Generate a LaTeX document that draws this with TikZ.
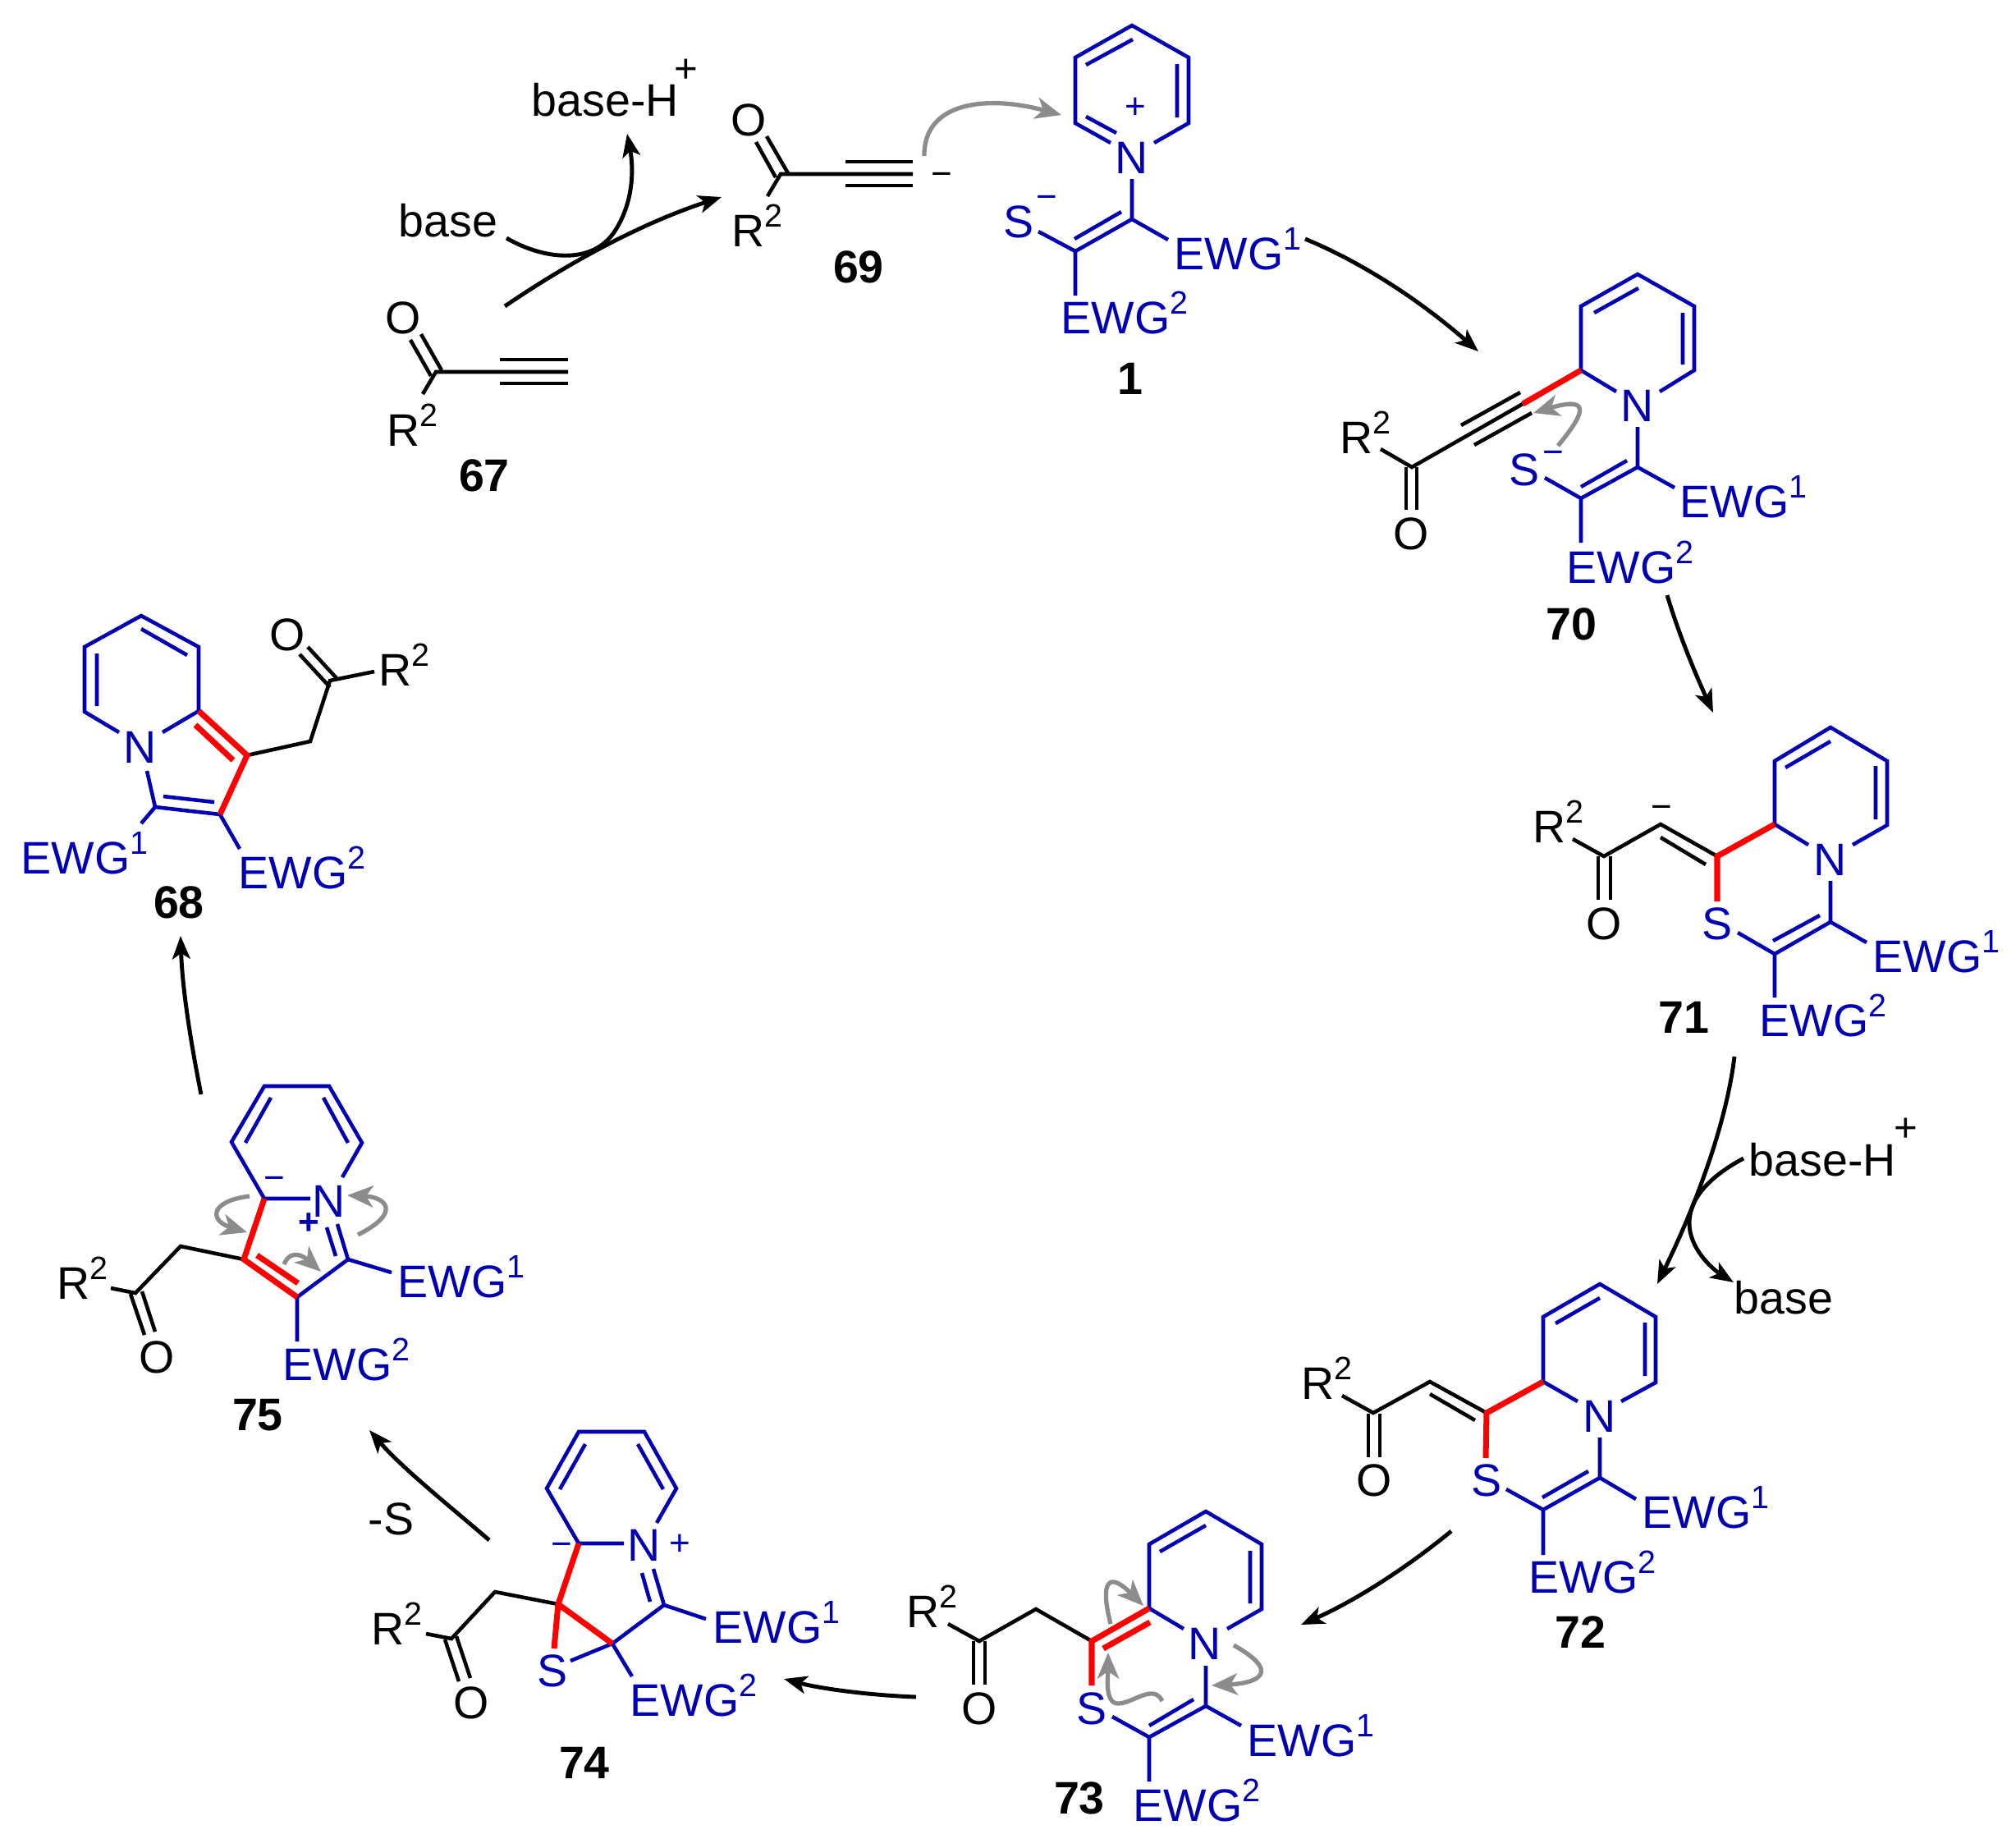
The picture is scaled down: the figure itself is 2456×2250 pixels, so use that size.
\documentclass[tikz,border=0pt]{standalone}
\usepackage{fontspec}
\setmainfont{Liberation Sans}
\usetikzlibrary{arrows.meta}
\definecolor{molblue}{RGB}{0,0,178}
\definecolor{curlgray}{RGB}{140,140,140}
\newcommand{\sups}[1]{\raisebox{6.8pt}{\fontsize{11.2}{12}\selectfont #1}}
\tikzset{
  bondb/.style={molblue,line width=1.3pt},
  bondk/.style={black,line width=1.3pt},
  bondr/.style={red,line width=2pt},
  rxn/.style={black,line width=1.4pt,-{Stealth[length=8pt,width=6.2pt,inset=2pt]}},
  curl/.style={curlgray,line width=1.5pt,-{Stealth[length=9pt,width=7.5pt,inset=2.5pt]}},
  txt/.style={inner sep=0pt,anchor=base west,font=\fontsize{15.8}{18}\selectfont},
  atm/.style={inner sep=0pt,font=\fontsize{15.8}{18}\selectfont},
  num/.style={inner sep=0pt,font=\fontsize{15.8}{18}\selectfont\bfseries},
  chg/.style={inner sep=0pt,anchor=base,font=\fontsize{12.5}{14}\selectfont}
}
\begin{document}
\begin{tikzpicture}[x=0.01cm,y=-0.01cm]
   \useasboundingbox (0,0) rectangle (2456,2250);

   \foreach \n/\x/\y in {r67/471/543,r69/891/300,r70/1632/552,r71/1867/1026,r72/1585/1704,r73/1104/1982,r74/452/2003,r75/69/1582,r68/461/835}
      \node[txt] (\n) at (\x,\y) {R\sups{2}};
   \foreach \n/\x/\y in {ea1/1430/328,ea70/2046/630,ea71/2281/1184,ea72/2000/1861,ea73/1519/2139,ea74/868/2001,ea75/484/1580,ea68/25/1064}
      \node[txt,molblue] (\n) at (\x,\y) {EWG\sups{1}};
   \foreach \n/\x/\y in {eb1/1292/406,eb70/1908/710,eb71/2143/1262,eb72/1862/1940,eb73/1380/2218,eb74/767/2090,eb75/344/1681,eb68/290/1082}
      \node[txt,molblue] (\n) at (\x,\y) {EWG\sups{2}};
   \foreach \n/\x/\y in {o67/491/387,o69/912/146,o70/1719/650,o71/1954/1125,o72/1674/1803,o73/1193/2081,o74/574/2074,o75/191/1653,o68/350/773}
      \node[atm] (\n) at (\x,\y) {O};
   \foreach \n/\x/\y in {n1/1379/192,n70/1995/494,n71/2230/1047,n72/1949/1725,n73/1468/2002,n74/785/1882,n75/401/1463,n68/171/910}
      \node[atm,molblue] (\n) at (\x,\y) {N};
   \foreach \n/\x/\y in {s1/1241/270,s70/1857/572,s71/2092/1125,s72/1811/1803,s73/1330/2081,s74/673/2035}
      \node[atm,molblue] (\n) at (\x,\y) {S};
   \foreach \n/\t/\x/\y in {l67/67/590/579,l69/69/1046/325,l1/1/1377/461,l70/70/1914/760,l71/71/2051/1239,l72/72/1925/1988,l73/73/1315/2190,l74/74/712/2147,l75/75/314/1724,l68/68/218/1099}
      \node[num] (\n) at (\x,\y) {\t};

   \node[txt] (base1) at (485,288) {base};
   \node[txt] (baseh1) at (647,141) {base-H};
   \node[chg,font=\fontsize{14}{16}\selectfont] (pl1) at (836,100) {+};
   \node[txt] (baseh2) at (2130,1432) {base-H};
   \node[chg,font=\fontsize{14}{16}\selectfont] (pl2) at (2322,1390) {+};
   \node[txt] (base2) at (2112,1600) {base};
   \node[txt] (less) at (448,1869) {-S};
   \node[chg] (mi69) at (1147,226) {\symbol{"2212}};
   \node[chg] (mi71) at (2024,997) {\symbol{"2212}};
   \node[chg,molblue] (mi1) at (1275,254) {\symbol{"2212}};
   \node[chg,molblue] (mi70) at (1892,565) {\symbol{"2212}};
   \node[chg,molblue] (mi74) at (684,1895) {\symbol{"2212}};
   \node[chg,molblue] (mi75) at (334,1449) {\symbol{"2212}};
   \node[chg,molblue] (pl1b) at (1383,144) {+};
   \node[chg,molblue] (pl74) at (828,1894) {+};
   \node[chg,molblue,font=\fontsize{12.5}{14}\selectfont\bfseries] (pl75) at (376,1503) {+};

   \draw[bondk] (515,480) -- (531,453) -- (692,453);
   \draw[bondk] (609,438) -- (692,438) (609,467) -- (692,467);
   \draw[bondk] (500,414) -- (525,458) (513,407) -- (538,451);

   \draw[bondk] (935,239) -- (951,212) -- (1112,212);
   \draw[bondk] (1030,197) -- (1112,197) (1030,226) -- (1112,226);
   \draw[bondk] (921,173) -- (945,216) (934,166) -- (960,211);

   \draw[bondb] (1353,174) -- (1310,150) -- (1310,70) -- (1379,31) -- (1448,70) -- (1448,150) -- (1406,174);
   \draw[bondb] (1323,79) -- (1380,48) (1434,78) -- (1434,143) (1323,142) -- (1360,162);
   \draw[bondb] (1379,218) -- (1379,267) -- (1310,306) -- (1310,360);
   \draw[bondb] (1379,267) -- (1423,292) (1366,258) -- (1309,291) (1265,282) -- (1310,306);

   \draw[bondb] (1969,477) -- (1926,451) -- (1926,373) -- (1995,334) -- (2064,373) -- (2064,451) -- (2022,477);
   \draw[bondb] (1942,381) -- (1996,351) (2050,381) -- (2050,444);
   \draw[bondb] (1995,520) -- (1995,569) -- (1926,607) -- (1926,661);
   \draw[bondb] (1995,569) -- (2040,594) (1982,561) -- (1926,593) (1882,582) -- (1926,607);
   \draw[bondk] (1855,492) -- (1720,569) -- (1682,547);
   \draw[bondk] (1852,478) -- (1780,518) (1866,503) -- (1796,542);
   \draw[bondk] (1713,569) -- (1713,621) (1726,569) -- (1726,621);
   \draw[bondr] (1926,451) -- (1855,492);

   \draw[bondb] (2203,1029) -- (2162,1004) -- (2162,927) -- (2230,886) -- (2299,927) -- (2299,1005) -- (2257,1029);
   \draw[bondb] (2175,935) -- (2230,903) (2285,933) -- (2285,998);
   \draw[bondb] (2230,1073) -- (2230,1123) -- (2162,1162) -- (2162,1215);
   \draw[bondb] (2230,1123) -- (2274,1148) (2217,1115) -- (2160,1146) (2117,1136) -- (2162,1162);
   \draw[bondk] (2092,1043) -- (2023,1004) -- (1954,1043) -- (1916,1022);
   \draw[bondk] (2078,1053) -- (2023,1020);
   \draw[bondk] (1947,1043) -- (1947,1096) (1962,1043) -- (1962,1096);
   \draw[bondr] (2162,1004) -- (2092,1043) -- (2092,1098);

   \draw[bondb] (1922,1707) -- (1880,1683) -- (1880,1604) -- (1949,1564) -- (2017,1604) -- (2017,1684) -- (1975,1707);
   \draw[bondb] (1895,1612) -- (1949,1581) (2004,1611) -- (2004,1676);
   \draw[bondb] (1949,1751) -- (1949,1800) -- (1880,1839) -- (1880,1894);
   \draw[bondb] (1949,1800) -- (1993,1826) (1935,1792) -- (1879,1824) (1835,1814) -- (1880,1839);
   \draw[bondk] (1811,1721) -- (1742,1683) -- (1673,1721) -- (1635,1700);
   \draw[bondk] (1797,1730) -- (1742,1698);
   \draw[bondk] (1667,1722) -- (1667,1775) (1681,1722) -- (1681,1775);
   \draw[bondr] (1880,1683) -- (1811,1721) -- (1810,1776);

   \draw[bondb] (1442,1984) -- (1400,1959) -- (1400,1881) -- (1469,1841) -- (1537,1881) -- (1537,1960) -- (1495,1984);
   \draw[bondb] (1413,1890) -- (1469,1858) (1523,1889) -- (1523,1953);
   \draw[bondb] (1469,2029) -- (1469,2078) -- (1400,2116) -- (1400,2170);
   \draw[bondb] (1469,2078) -- (1512,2102) (1454,2070) -- (1400,2102) (1355,2091) -- (1400,2116);
   \draw[bondk] (1330,1999) -- (1262,1960) -- (1193,1999) -- (1155,1978);
   \draw[bondk] (1186,1999) -- (1186,2052) (1200,1999) -- (1200,2052);
   \draw[bondr] (1400,1959) -- (1330,1999) -- (1330,2053) (1401,1976) -- (1344,2008);

   \draw[bondb] (760,1880) -- (705,1880) -- (666,1813) -- (705,1744) -- (785,1744) -- (824,1813) -- (800,1855);
   \draw[bondb] (713,1759) -- (682,1814) (777,1759) -- (808,1814);
   \draw[bondb] (796,1911) -- (809,1955) -- (746,2002) -- (770,2042);
   \draw[bondb] (782,1916) -- (792,1951) (809,1955) -- (860,1972) (695,2023) -- (746,2002);
   \draw[bondk] (680,1954) -- (603,1939) -- (550,1996) -- (519,1990);
   \draw[bondk] (542,1997) -- (559,2048) (556,1993) -- (573,2044);
   \draw[bondr] (705,1880) -- (680,1954) -- (675,2008) (680,1954) -- (746,2002);

   \draw[bondb] (378,1460) -- (322,1460) -- (282,1391) -- (322,1323) -- (401,1323) -- (441,1392) -- (417,1434);
   \draw[bondb] (330,1337) -- (299,1392) (394,1337) -- (424,1392);
   \draw[bondb] (411,1491) -- (424,1534) -- (362,1580) -- (362,1634);
   \draw[bondb] (398,1495) -- (409,1530) (424,1534) -- (477,1550);
   \draw[bondk] (297,1534) -- (220,1518) -- (165,1575) -- (135,1569);
   \draw[bondk] (159,1576) -- (176,1626) (173,1573) -- (189,1622);
   \draw[bondr] (322,1460) -- (297,1534) -- (362,1580) (313,1529) -- (363,1563);

   \draw[bondb] (145,892) -- (103,867) -- (103,788) -- (172,750) -- (242,788) -- (242,866) -- (198,892);
   \draw[bondb] (172,766) -- (228,798) (118,796) -- (118,860);
   \draw[bondb] (179,939) -- (189,983) -- (268,992) -- (292,1034);
   \draw[bondb] (199,970) -- (261,977) (189,983) -- (172,1003);
   \draw[bondk] (301,920) -- (378,903) -- (402,829) -- (456,818);
   \draw[bondk] (402,837) -- (365,797) (410,826) -- (375,788);
   \draw[bondr] (242,866) -- (301,920) -- (268,992) (238,883) -- (284,926);

   \foreach \n/\x/\y in {ra/615/373,rb/879/240,rc/617/290,rd/764/163,re/1590/291,rf/1801/428,rg/2031/725,rh/2087/868,ri/2113/1287,rj/2019/1564,rk/2124/1411,rl/2112/1562,rm/1768/1865,rn/1585/1979,ro/1116/2067,rp/955/2045,rq/596/1876,rr/450/1742,rs/245/1333,rt/220/1140}
      \coordinate (\n) at (\x,\y);
   \draw[rxn] (ra) .. controls (703,313) and (790,269) .. (rb);
   \draw[rxn] (rc) .. controls (660,315) and (722,325) .. (750,280) .. controls (772,245) and (772,205) .. (rd);
   \draw[rxn] (re) .. controls (1660,320) and (1730,366) .. (rf);
   \draw[rxn] (rg) .. controls (2046,775) and (2066,822) .. (rh);
   \draw[rxn] (ri) .. controls (2103,1370) and (2065,1470) .. (rj);
   \draw[rxn] (rk) .. controls (2085,1432) and (2058,1458) .. (2058,1490) .. controls (2058,1520) and (2085,1545) .. (rl);
   \draw[rxn] (rm) .. controls (1707,1915) and (1646,1952) .. (rn);
   \draw[rxn] (ro) .. controls (1060,2065) and (1000,2057) .. (rp);
   \draw[rxn] (rq) .. controls (540,1828) and (490,1788) .. (rr);
   \draw[rxn] (rs) .. controls (232,1268) and (222,1203) .. (rt);

   \foreach \n/\x/\y in {ca/1126/190,cb/1293/140,cc/1898/543,cd/1868/503,ce/1353/1978,cf/1393/1956,cg/1416/2072,ch/1350/2013,ci/1503/2004,cj/1476/2053,ck/304/1457,cl/301/1501,cm/436/1504,cn/423/1456,co/346/1540,cp/391/1549}
      \coordinate (\n) at (\x,\y);
   \draw[curl] (ca) .. controls (1125,125) and (1200,115) .. (cb);
   \draw[curl] (cc) .. controls (1925,510) and (1945,480) .. (cd);
   \draw[curl] (ce) .. controls (1340,1927) and (1350,1913) .. (cf);
   \draw[curl] (cg) .. controls (1405,2050) and (1380,2075) .. (1362,2075) .. controls (1345,2075) and (1350,2040) .. (ch);
   \draw[curl] (ci) .. controls (1560,2036) and (1535,2050) .. (cj);
   \draw[curl] (ck) .. controls (255,1463) and (255,1487) .. (cl);
   \draw[curl] (cm) .. controls (490,1477) and (470,1458) .. (cn);
   \draw[curl] (co) .. controls (355,1519) and (372,1532) .. (cp);
\end{tikzpicture}
\end{document}
